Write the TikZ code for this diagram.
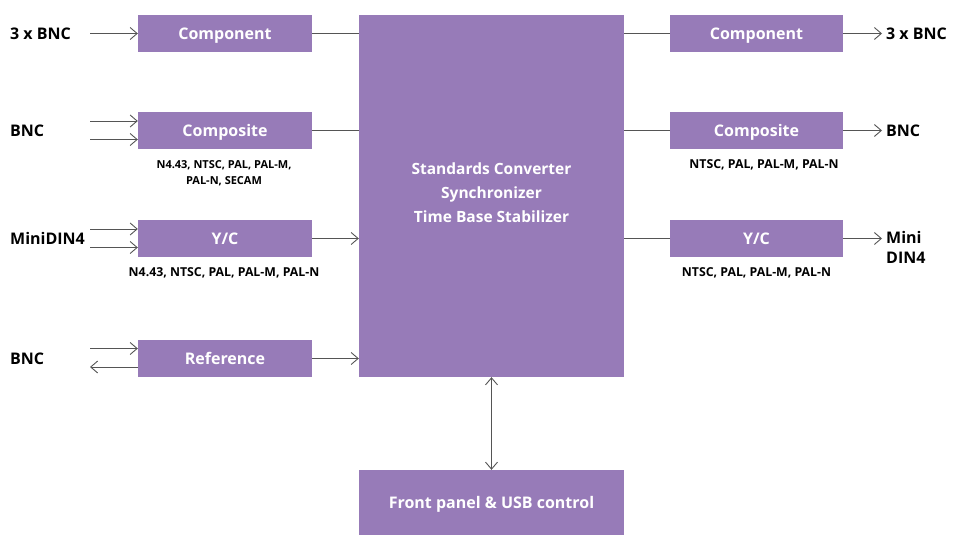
\documentclass[tikz,border=0pt]{standalone}
\usepackage{fontspec}
\setmainfont{Open Sans}
\usetikzlibrary{arrows.meta}
\definecolor{boxpurple}{HTML}{977BB8}
\definecolor{wire}{HTML}{555555}
\tikzset{
  box/.style={fill=boxpurple, text=white, inner sep=0pt, minimum width=174pt,
    minimum height=37pt, text height=11.5pt, text depth=0pt,
    font=\bfseries\fontsize{16}{18}\selectfont},
  port/.style={font=\bfseries\fontsize{16}{20}\selectfont, inner sep=0pt},
  fmt/.style={font=\bfseries\fontsize{12.3}{16}\selectfont, inner sep=0pt, align=center},
  wire/.style={draw=wire, line width=0.9pt},
  tip/.style={wire, -{Straight Barb[length=7pt,width=12pt]}},
}
\begin{document}
\begin{tikzpicture}[x=1pt,y=-1pt]
  \useasboundingbox (0,0) rectangle (962,535);
  % central blocks
  \node[box, minimum width=265pt, minimum height=362pt, align=center,
        text height=56pt, text depth=4pt,
        font=\bfseries\fontsize{15.5}{24}\selectfont] (core) at (491.5,196)
        {Standards Converter\\Synchronizer\\Time Base Stabilizer};
  \node[box, minimum width=265pt, minimum height=65pt] (panel) at (491.5,502.5)
        {Front panel \& USB control};
  %% inputs
  \node[box] (cmpIn) at (225,33.5) {Component};
  \node[box] (cvbsIn) at (225,130.5) {Composite};
  \node[box] (ycIn) at (225,238.5) {Y/C};
  \node[box] (refIn) at (225,358.5) {Reference};
  \node[port, anchor=west] (cmpInL) at (10,33.5) {3 x BNC};
  \node[port, anchor=west] (cvbsInL) at (10,130.5) {BNC};
  \node[port, anchor=west] (ycInL) at (10,238.5) {MiniDIN4};
  \node[port, anchor=west] (refInL) at (10,358.5) {BNC};
  \node[fmt, font=\bfseries\fontsize{11}{16}\selectfont] (cvbsInF) at (224,173)
        {N4.43, NTSC, PAL, PAL-M,\\PAL-N, SECAM};
  \node[fmt] (ycInF) at (224,272.5) {N4.43, NTSC, PAL, PAL-M, PAL-N};
  %% outputs
  \node[box, minimum width=173pt] (cmpOut) at (756.5,33.5) {Component};
  \node[box, minimum width=173pt] (cvbsOut) at (756.5,130.5) {Composite};
  \node[box, minimum width=173pt] (ycOut) at (756.5,238.5) {Y/C};
  \node[port, anchor=west] (cmpOutL) at (886,33.5) {3 x BNC};
  \node[port, anchor=west] (cvbsOutL) at (886,130.5) {BNC};
  \node[port, anchor=north west, align=left] (ycOutL) at (886,231) {Mini\\DIN4};
  \node[fmt] (cvbsOutF) at (764,165) {NTSC, PAL, PAL-M, PAL-N};
  \node[fmt] (ycOutF) at (756.5,272.5) {NTSC, PAL, PAL-M, PAL-N};
  %% wires in
  \coordinate (a1) at (90,33.5);
  \coordinate (a2) at (90,121);
  \coordinate (a3) at (90,139.5);
  \coordinate (a4) at (90,229);
  \coordinate (a5) at (90,247.5);
  \coordinate (a6) at (90,348.5);
  \coordinate (a7) at (90,367);
  \foreach \c/\b in {a1/cmpIn, a2/cvbsIn, a3/cvbsIn, a4/ycIn, a5/ycIn, a6/refIn}
    \draw[tip] (\c) -- (\c -| \b.west);
  \draw[tip] (a7 -| refIn.west) -- (a7);
  \draw[wire] (cmpIn.east) -- (cmpIn.east -| core.west);
  \draw[wire] (cvbsIn.east) -- (cvbsIn.east -| core.west);
  \draw[tip] (ycIn.east) -- (ycIn.east -| core.west);
  \draw[tip] (refIn.east) -- (refIn.east -| core.west);
  %% wires out
  \foreach \b in {cmpOut, cvbsOut, ycOut}
    \draw[wire] (\b.west -| core.east) -- (\b.west);
  \draw[tip] (cmpOut.east) -- ([xshift=-4pt]cmpOutL.west);
  \draw[tip] (cvbsOut.east) -- ([xshift=-4pt]cvbsOutL.west);
  \draw[tip] (ycOut.east) -- ([xshift=-4pt]ycOut.east -| ycOutL.west);
  %% control
  \draw[wire, {Straight Barb[length=7pt,width=12pt]}-{Straight Barb[length=7pt,width=12pt]}]
    (core.south) -- (panel.north);
\end{tikzpicture}
\end{document}
